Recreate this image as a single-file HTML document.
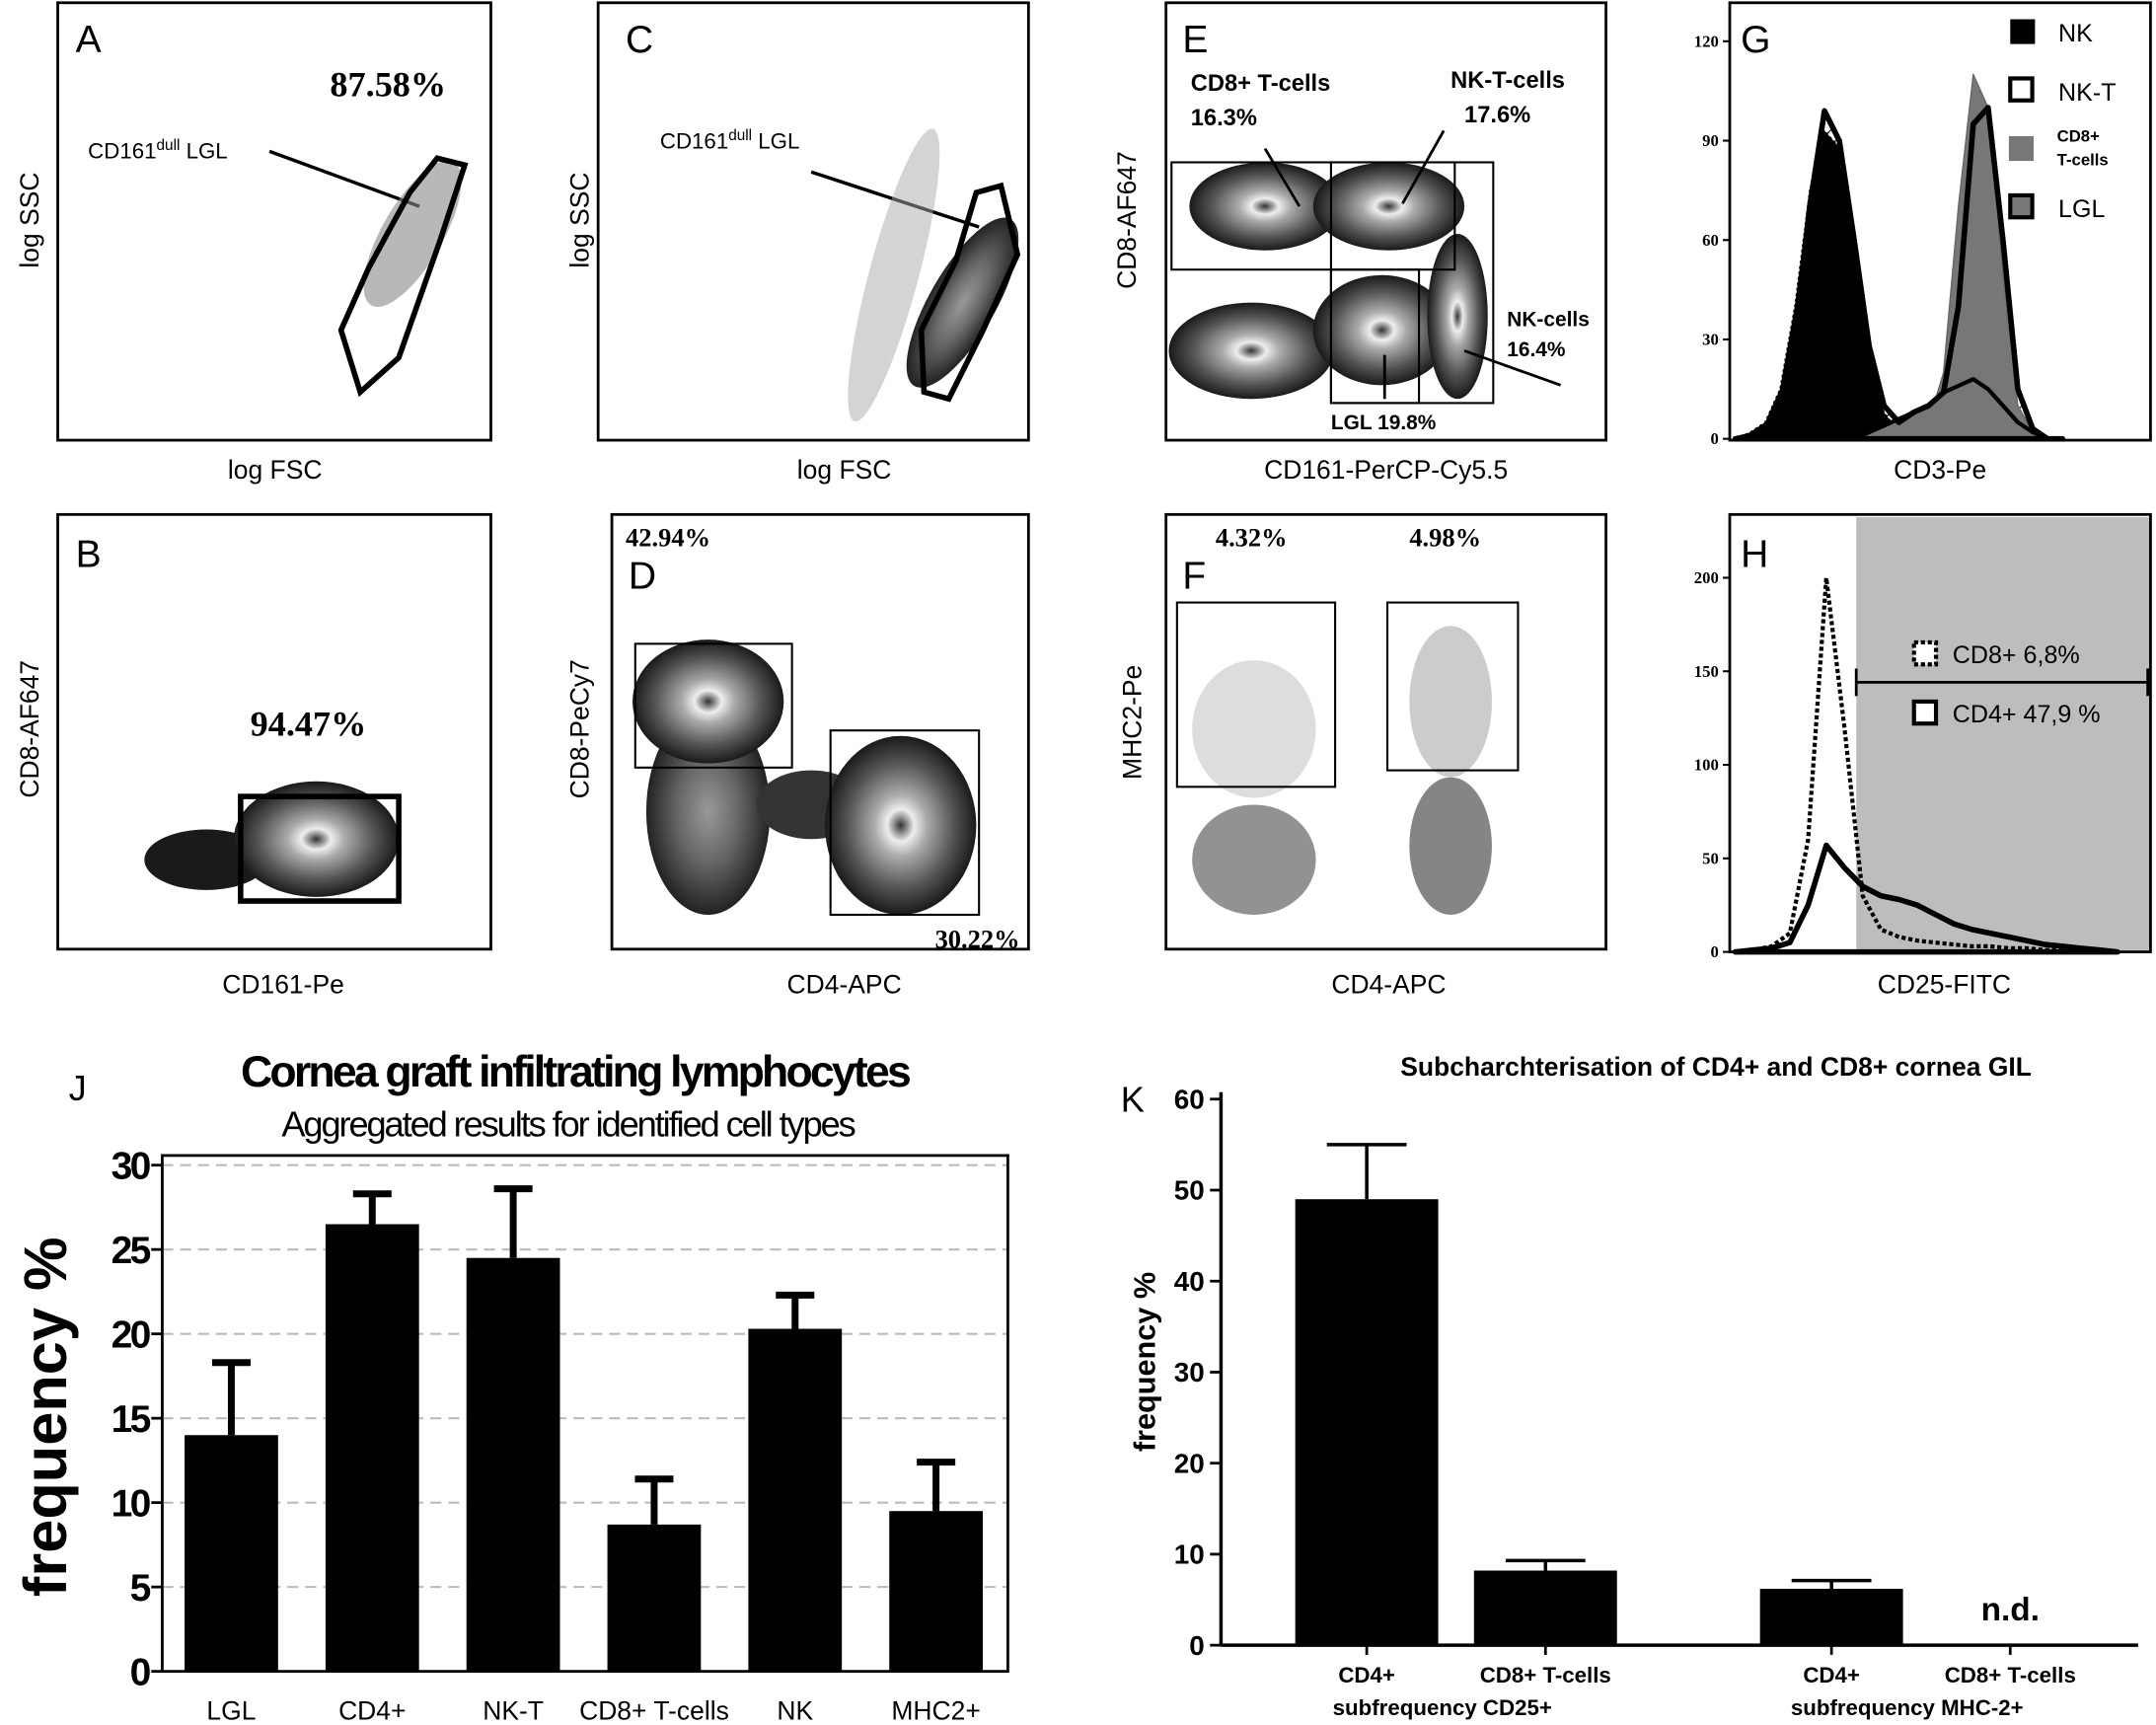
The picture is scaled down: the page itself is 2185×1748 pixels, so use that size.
<!DOCTYPE html>
<html><head><meta charset="utf-8">
<style>
html,body{margin:0;padding:0;background:#fff;}
svg{display:block;font-family:"Liberation Sans",sans-serif;}
</style></head>
<body>
<svg id="fig" width="2185" height="1748" viewBox="0 0 1568 1254" preserveAspectRatio="none" xmlns="http://www.w3.org/2000/svg">
<defs>
<radialGradient id="dens" cx="50%" cy="50%" r="50%">
<stop offset="0" stop-color="#333"/><stop offset="0.18" stop-color="#eee"/><stop offset="0.35" stop-color="#aaa"/><stop offset="0.7" stop-color="#555"/><stop offset="1" stop-color="#1a1a1a"/>
</radialGradient>
<radialGradient id="dens2" cx="50%" cy="50%" r="50%">
<stop offset="0" stop-color="#999"/><stop offset="0.5" stop-color="#666"/><stop offset="1" stop-color="#222"/>
</radialGradient>
<pattern id="hatch" width="8" height="8" patternUnits="userSpaceOnUse" patternTransform="rotate(45)"><rect width="8" height="8" fill="#fff"/><line x1="0" y1="0" x2="0" y2="8" stroke="#000" stroke-width="1.5"/></pattern>
</defs>

<g>
<rect x="42" y="2" width="315" height="318" fill="none" stroke="#000" stroke-width="2"/>
<text x="55" y="38" font-size="28">A</text>
<text x="240" y="70" font-size="26" font-weight="bold" font-family="Liberation Serif">87.58%</text>
<text x="64" y="115" font-size="16">CD161<tspan font-size="11" dy="-6">dull</tspan><tspan dy="6"> LGL</tspan></text>
<line x1="196" y1="110" x2="305" y2="150" stroke="#000" stroke-width="2.5"/>
<ellipse cx="300" cy="170" rx="22" ry="60" transform="rotate(30 300 170)" fill="#888" opacity="0.6"/>
<polygon points="318,115 338,120 320,175 290,260 262,285 248,240 268,195 298,140" fill="none" stroke="#000" stroke-width="4"/>
<text x="200" y="348" font-size="19" text-anchor="middle">log FSC</text>
<text x="28" y="160" font-size="19" text-anchor="middle" transform="rotate(-90 28 160)">log SSC</text>
</g>

<g>
<rect x="435" y="2" width="313" height="318" fill="none" stroke="#000" stroke-width="2"/>
<text x="455" y="38" font-size="28">C</text>
<text x="480" y="108" font-size="16">CD161<tspan font-size="11" dy="-6">dull</tspan><tspan dy="6"> LGL</tspan></text>
<line x1="590" y1="125" x2="712" y2="165" stroke="#000" stroke-width="2.5"/>
<ellipse cx="650" cy="200" rx="18" ry="110" transform="rotate(15 650 200)" fill="#aaa" opacity="0.5"/>
<ellipse cx="700" cy="220" rx="24" ry="70" transform="rotate(30 700 220)" fill="url(#dens2)"/>
<polygon points="710,140 728,135 740,185 715,240 690,290 672,285 670,240 695,190" fill="none" stroke="#000" stroke-width="4"/>
<text x="614" y="348" font-size="19" text-anchor="middle">log FSC</text>
<text x="428" y="160" font-size="19" text-anchor="middle" transform="rotate(-90 428 160)">log SSC</text>
</g>

<g>
<rect x="848" y="2" width="320" height="318" fill="none" stroke="#000" stroke-width="2"/>
<ellipse cx="920" cy="150" rx="55" ry="32" fill="url(#dens)"/>
<ellipse cx="1010" cy="150" rx="55" ry="32" fill="url(#dens)"/>
<ellipse cx="910" cy="255" rx="60" ry="35" fill="url(#dens)"/>
<ellipse cx="1005" cy="240" rx="50" ry="40" fill="url(#dens)"/>
<ellipse cx="1060" cy="230" rx="22" ry="60" fill="url(#dens)"/>
<rect x="852" y="118" width="206" height="78" fill="none" stroke="#000" stroke-width="1.5"/>
<rect x="968" y="118" width="118" height="175" fill="none" stroke="#000" stroke-width="1.5"/>
<rect x="968" y="196" width="64" height="97" fill="none" stroke="#000" stroke-width="1.5"/>
<text x="860" y="38" font-size="28">E</text>
<text x="866" y="66" font-size="17" font-weight="bold">CD8+ T-cells</text>
<text x="866" y="91" font-size="17" font-weight="bold">16.3%</text>
<text x="1055" y="64" font-size="17" font-weight="bold">NK-T-cells</text>
<text x="1065" y="89" font-size="17" font-weight="bold">17.6%</text>
<text x="1096" y="237" font-size="15" font-weight="bold">NK-cells</text>
<text x="1096" y="259" font-size="15" font-weight="bold">16.4%</text>
<text x="968" y="312" font-size="15" font-weight="bold">LGL 19.8%</text>
<line x1="920" y1="108" x2="945" y2="150" stroke="#000" stroke-width="2"/>
<line x1="1050" y1="95" x2="1020" y2="148" stroke="#000" stroke-width="2"/>
<line x1="1135" y1="280" x2="1065" y2="255" stroke="#000" stroke-width="2"/>
<line x1="1007" y1="290" x2="1007" y2="258" stroke="#000" stroke-width="2"/>
<text x="1008" y="348" font-size="19" text-anchor="middle">CD161-PerCP-Cy5.5</text>
<text x="826" y="160" font-size="19" text-anchor="middle" transform="rotate(-90 826 160)">CD8-AF647</text>
</g>

<g id="panelG">
<rect x="1258" y="2" width="306" height="318" fill="none" stroke="#000" stroke-width="2"/>
<text x="1266" y="38" font-size="28">G</text>
<text x="1411" y="348" font-size="19" text-anchor="middle">CD3-Pe</text>
<g font-size="18">
<rect x="1462" y="14" width="18" height="18" fill="#000"/><text x="1497" y="30">NK</text>
<rect x="1462" y="57" width="16" height="16" fill="#fff" stroke="#000" stroke-width="3"/><text x="1497" y="73">NK-T</text>
<rect x="1461" y="99" width="18" height="18" fill="#777"/><text x="1496" y="103" font-size="12" font-weight="bold">CD8+</text><text x="1496" y="120" font-size="12" font-weight="bold">T-cells</text>
<rect x="1462" y="142" width="16" height="16" fill="#777" stroke="#000" stroke-width="3"/><text x="1497" y="158">LGL</text>
</g>
</g>

<g>
<rect x="42" y="374" width="315" height="316" fill="none" stroke="#000" stroke-width="2"/>
<text x="55" y="412" font-size="28">B</text>
<text x="182" y="535" font-size="26" font-weight="bold" font-family="Liberation Serif">94.47%</text>
<ellipse cx="150" cy="625" rx="45" ry="22" fill="#1a1a1a"/>
<ellipse cx="230" cy="610" rx="60" ry="42" fill="url(#dens)"/>
<rect x="175" y="579" width="115" height="76" fill="none" stroke="#000" stroke-width="4"/>
<text x="206" y="722" font-size="19" text-anchor="middle">CD161-Pe</text>
<text x="28" y="530" font-size="19" text-anchor="middle" transform="rotate(-90 28 530)">CD8-AF647</text>
</g>

<g>
<rect x="445" y="374" width="303" height="316" fill="none" stroke="#000" stroke-width="2"/>
<ellipse cx="515" cy="590" rx="45" ry="75" fill="url(#dens2)"/>
<ellipse cx="515" cy="510" rx="55" ry="45" fill="url(#dens)"/>
<ellipse cx="590" cy="585" rx="40" ry="25" fill="#333"/>
<ellipse cx="655" cy="600" rx="55" ry="65" fill="url(#dens)"/>
<rect x="462" y="468" width="114" height="90" fill="none" stroke="#000" stroke-width="1.5"/>
<rect x="604" y="531" width="108" height="134" fill="none" stroke="#000" stroke-width="1.5"/>
<text x="455" y="397" font-size="19" font-weight="bold" font-family="Liberation Serif">42.94%</text>
<text x="457" y="428" font-size="28">D</text>
<text x="680" y="689" font-size="19" font-weight="bold" font-family="Liberation Serif">30.22%</text>
<text x="614" y="722" font-size="19" text-anchor="middle">CD4-APC</text>
<text x="428" y="530" font-size="19" text-anchor="middle" transform="rotate(-90 428 530)">CD8-PeCy7</text>
</g>

<g>
<rect x="848" y="374" width="320" height="316" fill="none" stroke="#000" stroke-width="2"/>
<ellipse cx="912" cy="625" rx="45" ry="40" fill="#777" opacity="0.8"/>
<ellipse cx="1055" cy="615" rx="30" ry="50" fill="#666" opacity="0.8"/>
<ellipse cx="912" cy="530" rx="45" ry="50" fill="#bbb" opacity="0.5"/>
<ellipse cx="1055" cy="510" rx="30" ry="55" fill="#999" opacity="0.5"/>
<rect x="856" y="438" width="115" height="134" fill="none" stroke="#000" stroke-width="1.5"/>
<rect x="1009" y="438" width="95" height="122" fill="none" stroke="#000" stroke-width="1.5"/>
<text x="860" y="428" font-size="28">F</text>
<text x="884" y="397" font-size="19" font-weight="bold" font-family="Liberation Serif">4.32%</text>
<text x="1025" y="397" font-size="19" font-weight="bold" font-family="Liberation Serif">4.98%</text>
<text x="1010" y="722" font-size="19" text-anchor="middle">CD4-APC</text>
<text x="830" y="525" font-size="19" text-anchor="middle" transform="rotate(-90 830 525)">MHC2-Pe</text>
</g>

<g id="panelH">
<rect x="1350" y="376" width="213" height="316" fill="#bdbdbd"/>
<rect x="1258" y="374" width="306" height="318" fill="none" stroke="#000" stroke-width="2"/>
<text x="1266" y="412" font-size="28">H</text>
<line x1="1350" y1="496" x2="1562" y2="496" stroke="#000" stroke-width="2"/>
<line x1="1350" y1="486" x2="1350" y2="506" stroke="#000" stroke-width="2"/>
<line x1="1562" y1="486" x2="1562" y2="506" stroke="#000" stroke-width="2"/>
<rect x="1392" y="467" width="16" height="16" fill="#fff" stroke="#000" stroke-width="3" stroke-dasharray="3 2"/>
<text x="1420" y="482" font-size="18">CD8+ 6,8%</text>
<rect x="1392" y="510" width="16" height="16" fill="#fff" stroke="#000" stroke-width="3"/>
<text x="1420" y="525" font-size="18">CD4+ 47,9 %</text>
<text x="1414" y="722" font-size="19" text-anchor="middle">CD25-FITC</text>
</g>

<g id="chartJ">
<text x="50" y="800" font-size="26">J</text>
<text x="418" y="790" font-size="32" font-weight="bold" text-anchor="middle" letter-spacing="-2">Cornea graft infiltrating lymphocytes</text>
<text x="413" y="826" font-size="26" text-anchor="middle" letter-spacing="-1.5">Aggregated results for identified cell types</text>
<text x="48" y="1030" font-size="44" font-weight="bold" text-anchor="middle" transform="rotate(-90 48 1030)">frequency %</text>
</g>

<g id="chartK">
<text x="815" y="808" font-size="26">K</text>
<text x="1248" y="782" font-size="19" font-weight="bold" text-anchor="middle">Subcharchterisation of CD4+ and CD8+ cornea GIL</text>
<text x="840" y="990" font-size="22" font-weight="bold" text-anchor="middle" transform="rotate(-90 840 990)">frequency %</text>
</g>
</svg>

<script>
const jCategories = ["LGL","CD4+","NK-T","CD8+ T-cells","NK","MHC2+"];
const jValues = [14, 26.5, 24.5, 8.7, 20.3, 9.5];
const jErrors = [4.3, 1.8, 4.1, 2.7, 2.0, 2.9];
const jTicks = [0,5,10,15,20,25,30];
const kCategories = ["CD4+","CD8+ T-cells","CD4+","CD8+ T-cells"];
const kValues = [49, 8.2, 6.2, null];
const kErrors = [6, 1.1, 0.9, null];
const kTicks = [0,10,20,30,40,50,60];
const kGroups = ["subfrequency CD25+","subfrequency MHC-2+"];
const gNK = [0,2,5,15,40,75,93,88,60,25,8,2,0,0,0,0,0,0,0,0,0,0,0];
const gNKT = [0,1,3,10,30,70,99,90,60,28,10,5,8,10,14,40,95,100,60,15,3,0,0];
const gCD8 = [0,0,0,0,0,0,0,0,0,0,1,2,3,5,20,70,110,100,50,10,2,0,0];
const gLGL = [0,0,0,0,0,0,0,0,0,2,4,6,8,10,14,16,18,15,10,5,2,0,0];
const hCD8 = [0,1,3,10,60,200,120,30,12,8,6,5,4,3,3,2,2,1,1,1,0,0];
const hCD4 = [0,1,2,5,25,57,45,35,30,28,25,20,15,12,10,8,6,4,3,2,1,0];

const NS="http://www.w3.org/2000/svg";
function mk(tag,attrs,parent){const e=document.createElementNS(NS,tag);for(const k in attrs)e.setAttribute(k,attrs[k]);parent.appendChild(e);return e;}

(function(){
 const g=document.getElementById('chartJ');
 const x0=118,x1=733,yb=1215,yt=847,max=30;
 const y=v=>yb-(v/max)*(yb-yt);
 for(const t of jTicks){
  if(t>0){const l=mk('line',{x1:x0,x2:x1,y1:y(t),y2:y(t),stroke:'#bbb','stroke-width':1.5,'stroke-dasharray':'8 5'},g);
  }
  const tk=mk('line',{x1:x0-8,x2:x0,y1:y(t),y2:y(t),stroke:'#000','stroke-width':2},g);
  
  const tx=mk('text',{x:x0-10,y:y(t)+10,'font-size':28,'font-weight':'bold','text-anchor':'end','letter-spacing':'-2'},g);
  tx.textContent=t;
 }
 const fr=mk('rect',{x:x0,y:840,width:x1-x0,height:yb-840,fill:'none',stroke:'#000','stroke-width':2},g);
 
 const step=(x1-x0)/jCategories.length,bw=68;
 jCategories.forEach((c,i)=>{
  const cx=x0+step*(i+0.5)-1,v=jValues[i],e=jErrors[i];
  const er=mk('line',{x1:cx,x2:cx,y1:y(v),y2:y(v+e),stroke:'#000','stroke-width':5},g);
  
  const cap=mk('line',{x1:cx-14,x2:cx+14,y1:y(v+e),y2:y(v+e),stroke:'#000','stroke-width':5},g);
  
  const b=mk('rect',{x:cx-bw/2,y:y(v),width:bw,height:yb-y(v),fill:'#000'},g);
  
  const t=mk('text',{x:cx,y:1250,'font-size':19,'text-anchor':'middle'},g);
  t.textContent=c;
 });
})();

(function(){
 const g=document.getElementById('chartK');
 const x0=888,x1=1555,yb=1196,yt=799,max=60;
 const y=v=>yb-(v/max)*(yb-yt);
 const ax=mk('line',{x1:x0,x2:x0,y1:yt-5,y2:yb,stroke:'#000','stroke-width':2.5},g);
 
 const xa=mk('line',{x1:x0,x2:x1,y1:yb,y2:yb,stroke:'#000','stroke-width':2.5},g);
 
 for(const t of kTicks){
  const tk=mk('line',{x1:x0-8,x2:x0,y1:y(t),y2:y(t),stroke:'#000','stroke-width':2},g);
  
  const tx=mk('text',{x:x0-12,y:y(t)+7,'font-size':20,'font-weight':'bold','text-anchor':'end'},g);
  tx.textContent=t;
 }
 const centers=[994,1124,1332,1462],bw=104;
 kCategories.forEach((c,i)=>{
  const cx=centers[i],v=kValues[i],e=kErrors[i];
  const tk=mk('line',{x1:cx,x2:cx,y1:yb,y2:yb+7,stroke:'#000','stroke-width':2},g);
  
  if(v==null){
   const nd=mk('text',{x:cx,y:1178,'font-size':24,'font-weight':'bold','text-anchor':'middle'},g);
   nd.textContent='n.d.';
  } else {
   const er=mk('line',{x1:cx,x2:cx,y1:y(v),y2:y(v+e),stroke:'#000','stroke-width':2.5},g);
   
   const cap=mk('line',{x1:cx-29,x2:cx+29,y1:y(v+e),y2:y(v+e),stroke:'#000','stroke-width':2.5},g);
   
   const b=mk('rect',{x:cx-bw/2,y:y(v),width:bw,height:yb-y(v),fill:'#000'},g);
   
  }
  const t=mk('text',{x:cx,y:1223,'font-size':16,'font-weight':'bold','text-anchor':'middle'},g);
  t.textContent=c;
 });
 kGroups.forEach((s,i)=>{
  const t=mk('text',{x:centers[i*2]+55,y:1247,'font-size':16,'font-weight':'bold','text-anchor':'middle'},g);
  t.textContent=s;
 });
})();

function hist(gid,x0,x1,yb,yt,max,ticks,series){
 const g=document.getElementById(gid);
 const y=v=>yb-(v/max)*(yb-yt);
 ticks.forEach(t=>{
  const tk=mk('line',{x1:x0-5,x2:x0,y1:y(t),y2:y(t),stroke:'#000','stroke-width':1.5},g);
  
  const tx=mk('text',{x:x0-8,y:y(t)+4,'font-size':12,'font-weight':'bold','text-anchor':'end','font-family':'Liberation Serif'},g);
  tx.textContent=t;
 });
 series.forEach(s=>{
  const n=s.data.length,xs=i=>s.xa+(s.xb-s.xa)*i/(n-1);
  let d='M'+xs(0)+','+yb;
  s.data.forEach((v,i)=>{d+=' L'+xs(i).toFixed(1)+','+y(v).toFixed(1);});
  d+=' L'+xs(n-1)+','+yb+' Z';
  const p=mk('path',{d:d,fill:s.fill,stroke:s.stroke,'stroke-width':s.sw,'stroke-dasharray':s.dash||'none','stroke-linejoin':'round'},g);
  
 });
}
hist('panelG',1258,1564,319,30,120,[0,30,60,90,120],[
 {data:gNKT,xa:1262,xb:1500,fill:'url(#hatch)',stroke:'none',sw:0,name:'hist-nk-t-fill'},
 {data:gCD8,xa:1262,xb:1500,fill:'#777',stroke:'#666',sw:1,name:'hist-cd8'},
 {data:gNK,xa:1262,xb:1500,fill:'#000',stroke:'#000',sw:1,dash:'2 2',name:'hist-nk'},
 {data:gLGL,xa:1262,xb:1500,fill:'#777',stroke:'#000',sw:3,name:'hist-lgl'},
 {data:gNKT,xa:1262,xb:1500,fill:'none',stroke:'#000',sw:4,name:'hist-nk-t'}
]);
hist('panelH',1258,1564,692,420,200,[0,50,100,150,200],[
 {data:hCD8,xa:1262,xb:1540,fill:'none',stroke:'#000',sw:3,dash:'3 2',name:'hist-cd8-cd25'},
 {data:hCD4,xa:1262,xb:1540,fill:'none',stroke:'#000',sw:4,name:'hist-cd4-cd25'}
]);
</script>
</body></html>
